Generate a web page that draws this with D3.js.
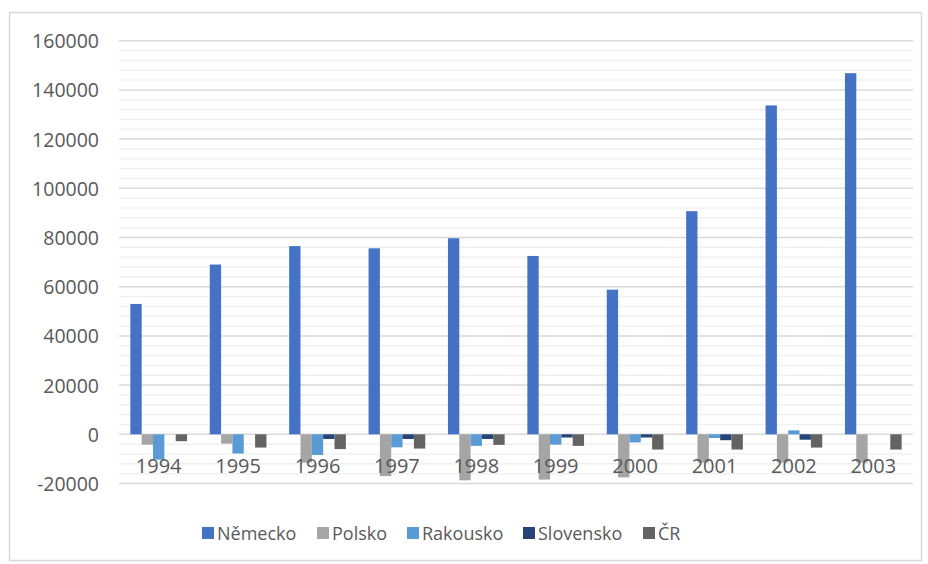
<!DOCTYPE html>
<html>
<head>
<meta charset="utf-8">
<script src="https://cdn.jsdelivr.net/npm/d3@7"></script>
<style>
  body { margin: 0; background: #fff; }
  text { font-family: "Open Sans", "Liberation Sans", sans-serif; fill: #595959; }
</style>
</head>
<body>
<div id="chart"></div>
<script>
// Data
const years = ['1994', '1995', '1996', '1997', '1998', '1999', '2000', '2001', '2002', '2003'];
const seriesNames = ['Německo', 'Polsko', 'Rakousko', 'Slovensko', 'ČR'];
const nemecko = [53000, 69000, 76500, 75600, 79700, 72500, 58800, 90700, 133700, 146800];
const polsko = [-4200, -3800, -11500, -17000, -18700, -18400, -17500, -11500, -11500, -11500];
const rakousko = [-10300, -7800, -8400, -5300, -4700, -4200, -3300, -1500, 1600, 0];
const slovensko = [0, 0, -1900, -1900, -1900, -1300, -1300, -2400, -2200, 0];
const cr = [-2800, -5400, -6000, -5800, -4300, -4700, -6200, -6200, -5400, -6200];
const yTicks = [-20000, 0, 20000, 40000, 60000, 80000, 100000, 120000, 140000, 160000];

const seriesValues = [nemecko, polsko, rakousko, slovensko, cr];
const colors = ['#4472C4', '#A5A5A5', '#5B9BD5', '#264478', '#636363'];

const width = 928, height = 564;
const plot = { left: 119, right: 913, top: 40.7, bottom: 483.5 };

const svg = d3.select('#chart')
  .append('svg')
  .attr('width', width)
  .attr('height', height);

// Chart frame
svg.append('rect')
  .attr('x', 9.5).attr('y', 12.5)
  .attr('width', 912).attr('height', 548)
  .attr('fill', '#fff')
  .attr('stroke', '#d9d9d9')
  .attr('stroke-width', 1.5);

// Scales
const y = d3.scaleLinear()
  .domain([-20000, 160000])
  .range([plot.bottom, plot.top]);

const x0 = d3.scaleBand()
  .domain(years)
  .range([plot.left, plot.right])
  .paddingInner(0.286)
  .paddingOuter(0.143);

const x1 = d3.scaleBand()
  .domain(seriesNames)
  .range([0, x0.bandwidth()]);

// Minor gridlines
const minorTicks = d3.range(-20000, 160001, 4000).filter(v => v % 20000 !== 0);
svg.append('g')
  .selectAll('line')
  .data(minorTicks)
  .enter()
  .append('line')
  .attr('x1', plot.left).attr('x2', plot.right)
  .attr('y1', d => y(d)).attr('y2', d => y(d))
  .attr('stroke', '#f0f0f0')
  .attr('stroke-width', 1.5);

// Major gridlines
svg.append('g')
  .selectAll('line')
  .data(yTicks)
  .enter()
  .append('line')
  .attr('x1', plot.left).attr('x2', plot.right)
  .attr('y1', d => y(d)).attr('y2', d => y(d))
  .attr('stroke', '#d9d9d9')
  .attr('stroke-width', 1.5);

// Y axis labels
svg.append('g')
  .selectAll('text')
  .data(yTicks)
  .enter()
  .append('text')
  .attr('x', 99)
  .attr('y', d => y(d))
  .attr('text-anchor', 'end')
  .attr('dominant-baseline', 'central')
  .style('font-size', '19.5px')
  .text(d => d);

// Bars
seriesNames.forEach((name, s) => {
  svg.append('g')
    .selectAll('rect')
    .data(seriesValues[s])
    .enter()
    .append('rect')
    .attr('x', (d, i) => x0(years[i]) + x1(name))
    .attr('y', d => y(Math.max(0, d)))
    .attr('width', x1.bandwidth())
    .attr('height', d => Math.abs(y(d) - y(0)))
    .attr('fill', colors[s]);
});

// Category labels (next to the zero axis)
svg.append('g')
  .selectAll('text')
  .data(years)
  .enter()
  .append('text')
  .attr('x', d => x0(d) + x0.bandwidth() / 2)
  .attr('y', y(0) + 31)
  .attr('text-anchor', 'middle')
  .attr('dominant-baseline', 'central')
  .style('font-size', '20px')
  .text(d => d);

// Legend
const legendX = [202, 317, 407, 523, 643];
const legend = svg.append('g');
seriesNames.forEach((name, s) => {
  legend.append('rect')
    .attr('x', legendX[s]).attr('y', 527)
    .attr('width', 12).attr('height', 12)
    .attr('fill', colors[s]);
  legend.append('text')
    .attr('x', legendX[s] + 15)
    .attr('y', 533)
    .attr('dominant-baseline', 'central')
    .style('font-size', '18px')
    .text(name);
});
</script>
</body>
</html>
